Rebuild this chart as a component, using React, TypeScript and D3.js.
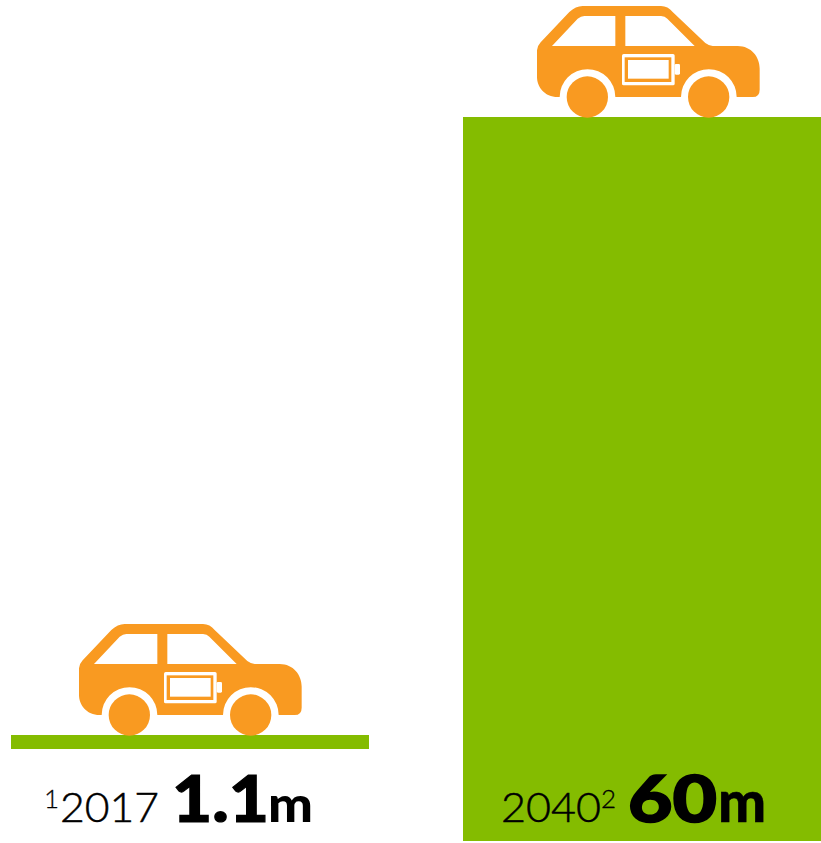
import React from 'react';
import * as d3 from 'd3';

const years = ['2017', '2040'];
const footnotes = ['1', '2'];
const vehicles = [1.1, 60];
const valueLabels = ['1.1', '60'];
const unit = 'm';

const WIDTH = 821;
const HEIGHT = 843;
const GREEN = '#84bc00';
const ORANGE = '#f99a21';
const FONT = 'Lato, "Open Sans", sans-serif';

// bars do not share a baseline in the original
const baselines = [749, 841];
const carNudge = [0, 6];

const x = d3.scaleBand<string>().domain(years).range([11, WIDTH]).paddingInner(94 / 452).paddingOuter(0);
const h = d3.scaleLinear().domain([0, 60]).range([0, 724]);

// car drawn at 3x, origin on the road line, horizontally centred
const body =
  'M-333,-200 Q-333,-212 -322,-224 L-236,-315 Q-217,-333 -196,-333 L39,-333 Q60,-333 74,-315 L172,-222 Q184,-213 194,-213 L269,-213 ' +
  'C310,-213 335,-180 335,-145 L335,-82 Q335,-60 314,-60 L266,-60 A83,83 0 0 0 99,-60 L-98,-60 A83,83 0 0 0 -265,-60 ' +
  'L-271,-60 C-310,-60 -333,-90 -333,-120 Z';
const windows =
  'M-288,-213 L-211,-295 Q-201,-303 -191,-303 L-98,-303 L-98,-213 Z ' +
  'M-68,-303 L39,-303 Q51,-303 58,-295 L140,-213 L-68,-213 Z';

function Car({ cx, top }: { cx: number; top: number }) {
  return (
    <g transform={`translate(${cx},${top}) scale(${1 / 3})`}>
      <path d={body} fill={ORANGE} />
      <path d={windows} fill="#fff" />
      <circle cx={-182} cy={-60} r={62} fill={ORANGE} />
      <circle cx={182} cy={-60} r={62} fill={ORANGE} />
      <rect x={-78} y={-189} width={158} height={94} rx={5} fill="#fff" />
      <rect x={80} y={-159} width={16} height={32} rx={4} fill="#fff" />
      <rect x={-70} y={-179} width={140} height={74} fill={ORANGE} />
      <rect x={-60} y={-171} width={122} height={56} fill="#fff" />
    </g>
  );
}

export default function App() {
  return (
    <svg width={WIDTH} height={HEIGHT} style={{ position: 'absolute', left: 0, top: 0 }} fontFamily={FONT}>
      {years.map((year, i) => {
        const bh = Math.ceil(h(vehicles[i]));
        const top = baselines[i] - bh;
        return (
          <g key={year}>
            <rect x={x(year)} y={top} width={x.bandwidth()} height={bh} fill={GREEN} />
            <Car cx={x(year)! + x.bandwidth() / 2 + carNudge[i]} top={top} />
          </g>
        );
      })}
      <g fill="#000">
        <text x={44} y={808} fontSize={26} fontWeight={300} stroke="#000" strokeWidth={0.3}>{footnotes[0]}</text>
        <text x={60} y={822} fontSize={41} fontWeight={300} textLength={99} lengthAdjust="spacingAndGlyphs" stroke="#000" strokeWidth={0.5}>{years[0]}</text>
        <text x={172} y={822} fontSize={65} fontWeight={900} textLength={97} lengthAdjust="spacingAndGlyphs" stroke="#000" strokeWidth={1.2}>{valueLabels[0]}</text>
        <text x={268} y={822} fontSize={50} fontWeight={900} textLength={45} lengthAdjust="spacingAndGlyphs">{unit}</text>
        <text x={501} y={822} fontSize={41} fontWeight={300} textLength={100} lengthAdjust="spacingAndGlyphs" stroke="#000" strokeWidth={0.5}>{years[1]}</text>
        <text x={601} y={808} fontSize={26} fontWeight={300} stroke="#000" strokeWidth={0.3}>{footnotes[1]}</text>
        <text x={628} y={822} fontSize={65} fontWeight={900} textLength={89} lengthAdjust="spacingAndGlyphs" stroke="#000" strokeWidth={1.6}>{valueLabels[1]}</text>
        <text x={718} y={822} fontSize={57} fontWeight={900} stroke="#000" strokeWidth={0.5}>{unit}</text>
      </g>
    </svg>
  );
}
